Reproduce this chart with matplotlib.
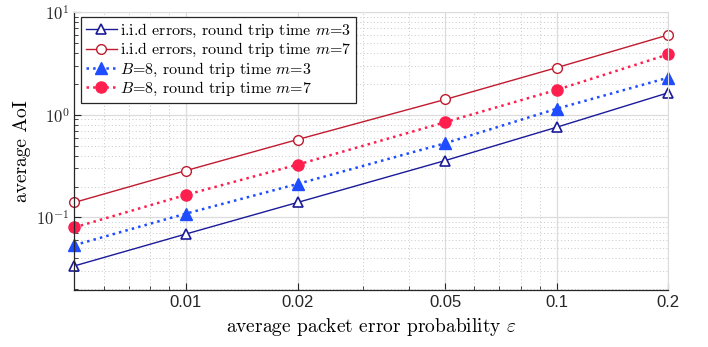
import matplotlib
matplotlib.use("Agg")
import matplotlib.pyplot as plt
from matplotlib.ticker import FixedLocator, FixedFormatter, LogLocator, NullFormatter

plt.rcParams["mathtext.fontset"] = "cm"
plt.rcParams["font.family"] = ["Liberation Sans", "DejaVu Sans"]
plt.rcParams["axes.unicode_minus"] = False

eps = [0.005, 0.01, 0.02, 0.05, 0.1, 0.2]
iid_m3 = [0.0337, 0.069, 0.140, 0.358, 0.757, 1.64]
iid_m7 = [0.140, 0.286, 0.574, 1.41, 2.88, 6.0]
b8_m3 = [0.0537, 0.109, 0.212, 0.528, 1.146, 2.30]
b8_m7 = [0.080, 0.166, 0.327, 0.847, 1.75, 3.88]

x_ticks = [0.01, 0.02, 0.05, 0.1, 0.2]
x_ticklabels = ["0.01", "0.02", "0.05", "0.1", "0.2"]
y_ticks = [0.1, 1, 10]
y_ticklabels = [r"$\mathsf{10}^{\mathsf{-1}}$", r"$\mathsf{10}^{\mathsf{0}}$", r"$\mathsf{10}^{\mathsf{1}}$"]

labels = [
    r"i.i.d errors, round trip time $m$=3",
    r"i.i.d errors, round trip time $m$=7",
    r"$B$=8, round trip time $m$=3",
    r"$B$=8, round trip time $m$=7",
]

serif = {"family": "cmr10"}

fig = plt.figure(figsize=(7.08, 3.47), dpi=100)
ax = fig.add_axes([0.105, 0.164, 0.839, 0.801])

ax.plot(eps, iid_m3, "-", color="#1a1a9a", lw=1.0, marker="^", ms=7.5,
        mfc="white", mec="#1a1a9a", mew=1.2, label=labels[0], clip_on=False)
ax.plot(eps, iid_m7, "-", color="#c01a2e", lw=1.0, marker="o", ms=7,
        mfc="white", mec="#c01a2e", mew=1.0, label=labels[1], clip_on=False)
ax.plot(eps, b8_m3, ":", color="#1f4cff", lw=1.8, marker="^", ms=8,
        mfc="#1f4cff", mec="#1f4cff", label=labels[2], clip_on=False)
ax.plot(eps, b8_m7, ":", color="#ff1f4f", lw=1.8, marker="o", ms=8,
        mfc="#ff1f4f", mec="#ff1f4f", label=labels[3], clip_on=False)

ax.set_xscale("log")
ax.set_yscale("log")
ax.set_xlim(0.005, 0.2)
ax.set_ylim(0.0196, 10)

ax.xaxis.set_major_locator(FixedLocator(x_ticks))
ax.xaxis.set_major_formatter(FixedFormatter(x_ticklabels))
ax.xaxis.set_minor_locator(LogLocator(base=10, subs=range(2, 10)))
ax.xaxis.set_minor_formatter(NullFormatter())
ax.yaxis.set_major_locator(FixedLocator(y_ticks))
ax.yaxis.set_major_formatter(FixedFormatter(y_ticklabels))
ax.yaxis.set_minor_locator(LogLocator(base=10, subs=range(2, 10)))
ax.yaxis.set_minor_formatter(NullFormatter())

ax.grid(True, which="major", color="#dcdcdc", lw=0.9, ls="-")
ax.grid(True, which="minor", color="#c8c8c8", lw=0.7, ls=(0, (1, 2.5)))
ax.set_axisbelow(True)

ax.tick_params(which="both", direction="in", top=False, right=False,
               labelsize=12, colors="#262626")
ax.tick_params(which="major", length=5)
ax.tick_params(which="minor", length=3)
for s in ["left", "bottom"]:
    ax.spines[s].set_color("#262626")
    ax.spines[s].set_linewidth(0.9)
for s in ["top", "right"]:
    ax.spines[s].set_color("#dcdcdc")

ax.set_xlabel(r"average packet error probability $\varepsilon$", fontsize=14, labelpad=4, **serif)
ax.set_ylabel("average AoI", fontsize=14, labelpad=4, **serif)

leg = ax.legend(loc="upper left", bbox_to_anchor=(0.012, 0.982), borderaxespad=0,
                prop={"family": "cmr10", "size": 11.5},
                fancybox=False, edgecolor="#262626", framealpha=1,
                handlelength=1.9, handletextpad=0.2, borderpad=0.3, labelspacing=0.08)
leg.get_frame().set_linewidth(0.9)

fig.savefig("out.png", dpi=100)
